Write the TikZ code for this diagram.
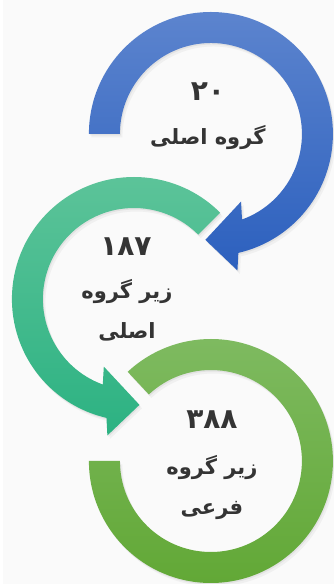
\documentclass[tikz,border=0pt]{standalone}
\usepackage{fontspec}
\newfontfamily\arabicfont[Script=Arabic]{DejaVu Sans}
\TeXXeTstate=1
\usetikzlibrary{shadows}

\definecolor{bgcol}{RGB}{250,250,250}
\definecolor{textcol}{RGB}{52,52,52}
\definecolor{bluetop}{RGB}{92,132,206}
\definecolor{bluebot}{RGB}{44,96,190}
\definecolor{greentop}{RGB}{94,196,154}
\definecolor{greenbot}{RGB}{44,178,130}
\definecolor{limetop}{RGB}{126,186,96}
\definecolor{limebot}{RGB}{98,168,54}

\begin{document}
\begin{tikzpicture}[x=1pt,y=1pt,
    ring/.style={drop shadow={opacity=0.12,shadow xshift=1pt,shadow yshift=-1.5pt},
        drop shadow={opacity=0.08,shadow xshift=2.5pt,shadow yshift=-3.5pt}},
    count/.style={text=textcol,font=\arabicfont\bfseries\fontsize{28}{34}\selectfont},
    caption/.style={text=textcol,align=center,
        font=\arabicfont\bfseries\fontsize{21}{40}\selectfont}]
    		% background
    		\fill[bgcol] (0,0) rectangle (331,584);
    		
    		% centres
    		\coordinate (bluec) at (208,450);
    		\coordinate (greenc) at (131,285);
    		\coordinate (limec) at (208,123);
    		
    		% blue arrow
    		\shade[ring, top color=bluetop, bottom color=bluebot]
    		  ([shift={(bluec)}]180:122) arc[start angle=180, end angle=-77, radius=122]
    		  -- ([shift={(bluec)}]-79:139) -- ([shift={(bluec)}]-93:106)
    		  -- ([shift={(bluec)}]-66:74) -- ([shift={(bluec)}]-70:91)
    		  arc[start angle=-70, end angle=180, radius=91] -- cycle;
    		
    		% green arrow
    		\shade[ring, top color=greentop, bottom color=greenbot]
    		  ([shift={(greenc)}]45:122) arc[start angle=45, end angle=257, radius=122]
    		  -- ([shift={(greenc)}]259:139) -- ([shift={(greenc)}]273:106)
    		  -- ([shift={(greenc)}]246:74) -- ([shift={(greenc)}]250:91)
    		  arc[start angle=250, end angle=45, radius=91] -- cycle;
    		
    		% lime ring
    		\shade[ring, top color=limetop, bottom color=limebot]
    		  ([shift={(limec)}]180:122) arc[start angle=180, end angle=493, radius=122]
    		  -- ([shift={(limec)}]133:91)
    		  arc[start angle=493, end angle=180, radius=91] -- cycle;
    		
    		% counts
    		\node[count] (mainnum) at (205,492) {۲۰};
    		\node[caption] (maintext) at (205,446) {\beginR گروه اصلی\endR};
    		\node[count] (subnum) at (123,337) {۱۸۷};
    		\node[caption] (subtext) at (124,274) {\beginR زیر گروه\endR\\\beginR اصلی\endR};
    		\node[count] (minornum) at (209,164) {۳۸۸};
    		\node[caption] (minortext) at (209,96) {\beginR زیر گروه\endR\\\beginR فرعی\endR};
    	\end{tikzpicture}
\end{document}
